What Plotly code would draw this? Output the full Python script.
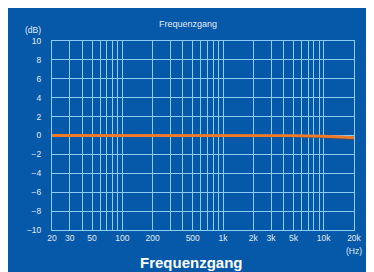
import plotly.graph_objects as go

# Data
freq_hz = [20, 50, 100, 200, 500, 1000, 2000, 5000, 10000, 15000, 20000]
level_l_db = [0.0, 0.0, 0.0, 0.0, 0.0, 0.0, 0.0, -0.02, -0.08, -0.15, -0.22]
level_r_db = [0.0, 0.0, 0.0, 0.0, 0.0, 0.0, 0.0, -0.05, -0.15, -0.28, -0.40]

grid_freqs = ([20, 30, 40, 50, 60, 70, 80, 90] +
              [100, 200, 300, 400, 500, 600, 700, 800, 900] +
              [1000, 2000, 3000, 4000, 5000, 6000, 7000, 8000, 9000] +
              [10000, 20000])
labeled = {20: "20", 30: "30", 50: "50", 100: "100", 200: "200", 500: "500",
           1000: "1k", 2000: "2k", 3000: "3k", 5000: "5k", 10000: "10k", 20000: "20k"}
x_ticktext = [labeled.get(f, "") for f in grid_freqs]

y_tickvals = [-10, -8, -6, -4, -2, 0, 2, 4, 6, 8, 10]
y_ticktext = ["\u221210", "\u22128", "\u22126", "\u22124", "\u22122", "0", "2", "4", "6", "8", "10"]

BLUE = "#0559a8"
GRID = "#8ccdf3"
TXT = "#e4ecf4"
FONT = "Liberation Sans, Arial, sans-serif"

fig = go.Figure()
fig.add_trace(go.Scatter(x=freq_hz, y=level_r_db, mode="lines",
                         line=dict(color="#3d4f6e", width=2.5), hoverinfo="skip"))
fig.add_trace(go.Scatter(x=freq_hz, y=level_l_db, mode="lines",
                         line=dict(color="#f07a28", width=2.8)))

# figure is placed at page offset (8, 8) by the browser's body margin
W, H = 366, 264
L, R, T, B = 44, 15, 33, 42
pw, ph = W - L - R, H - T - B


def px(x_page):
    return (x_page - 8 - L) / pw


def py(y_page):
    return (H - B - (y_page - 8)) / ph


fig.update_layout(
    width=W, height=H,
    margin=dict(l=L, r=R, t=T, b=B),
    paper_bgcolor=BLUE,
    plot_bgcolor=BLUE,
    showlegend=False,
    font=dict(family=FONT, size=8, color=TXT),
    xaxis=dict(type="log", range=[1.30103, 4.30103], tickvals=grid_freqs,
               ticktext=x_ticktext, showgrid=True, gridcolor=GRID, gridwidth=1,
               showline=True, linecolor=GRID, linewidth=1, mirror=True,
               zeroline=False, ticks="", tickfont=dict(size=8.5, color=TXT)),
    yaxis=dict(range=[-10, 10], tickvals=y_tickvals, ticktext=y_ticktext,
               showgrid=True, gridcolor=GRID, gridwidth=1,
               showline=True, linecolor=GRID, linewidth=1, mirror=True,
               zeroline=False, ticks="", ticklabelstandoff=8,
               tickfont=dict(size=8.5, color=TXT)),
    annotations=[
        dict(text="Frequenzgang", xref="paper", yref="paper", x=px(190),
             y=py(24), xanchor="center", yanchor="middle", showarrow=False,
             font=dict(size=9, color=TXT)),
        dict(text="(dB)", xref="paper", yref="paper", x=px(33),
             y=py(30), xanchor="center", yanchor="middle",
             showarrow=False, font=dict(size=8.5, color=TXT)),
        dict(text="(Hz)", xref="paper", yref="paper", x=px(359),
             y=py(251), xanchor="center", yanchor="middle",
             showarrow=False, font=dict(size=8.5, color=TXT)),
        dict(text="<b>Frequenzgang</b>", xref="paper", yref="paper",
             x=px(194), y=py(262), xanchor="center",
             yanchor="middle", showarrow=False,
             font=dict(size=15, color="#ffffff")),
    ],
)

fig.write_html("out.html")
